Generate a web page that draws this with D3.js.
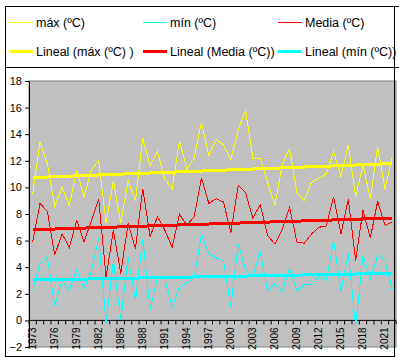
<!DOCTYPE html>
<html>
<head>
<meta charset="utf-8">
<script src="https://cdn.jsdelivr.net/npm/d3@7"></script>
<style>
  body { margin: 0; background: #fff; }
  svg { display: block; font-family: "Liberation Sans", Arial, sans-serif; }
</style>
</head>
<body>
<div id="chart"></div>
<script>
// Data
var years = d3.range(1973, 2023);

var maxTemp = [9.5, 13.4, 11.8, 8.6, 10.0, 8.65, 11.3, 9.3, 11.3, 12.0,
  7.3, 10.5, 7.3, 10.5, 9.0, 13.7, 11.6, 12.7, 10.6, 9.9,
  13.5, 11.4, 12.2, 14.9, 12.4, 13.6, 13.2, 12.1, 14.3, 15.8,
  12.2, 12.2, 10.4, 8.65, 11.7, 12.9, 9.6, 9.0, 10.4, 10.7,
  11.0, 12.7, 10.8, 13.2, 9.3, 11.7, 9.15, 13.05, 9.9, 12.3];

var minTemp = [2.3, 4.25, 4.75, 1.1, 3.0, 2.3, 3.8, 2.4, 3.7, 6.2,
  -0.2, 4.5, 0.0, 4.75, 1.5, 6.15, 0.85, 3.2, 3.1, 1.0,
  2.5, 2.85, 3.2, 6.5, 5.0, 4.7, 4.5, 1.0, 5.75, 3.8,
  3.3, 5.2, 2.2, 2.75, 2.2, 3.9, 2.2, 2.7, 2.7, 3.3,
  3.0, 6.0, 2.2, 5.05, -0.45, 4.85, 3.15, 4.9, 4.5, 2.3];

var meanTemp = [5.9, 8.8, 8.2, 4.9, 6.5, 5.5, 7.5, 5.9, 7.5, 9.1,
  3.25, 6.8, 3.5, 7.3, 5.4, 9.9, 6.3, 7.8, 6.8, 5.5,
  8.0, 7.15, 7.8, 10.7, 8.8, 9.15, 8.9, 6.6, 10.15, 9.6,
  7.7, 8.7, 6.4, 5.75, 6.85, 8.5, 5.9, 5.8, 6.5, 7.0,
  7.1, 9.3, 6.5, 9.1, 4.5, 8.3, 6.2, 8.95, 7.15, 7.4];

var yTicks = [-2, 0, 2, 4, 6, 8, 10, 12, 14, 16, 18];
var xTickYears = [1973, 1976, 1979, 1982, 1985, 1988, 1991, 1994, 1997,
  2000, 2003, 2006, 2009, 2012, 2015, 2018, 2021];

var legendLabels = ["máx (ºC)", "mín (ºC)", "Media (ºC)",
  "Lineal (máx (ºC) )", "Lineal (Media (ºC))", "Lineal (mín (ºC))"];

var svgWidth = 399;
var svgHeight = 362;

var plot = { left: 29, right: 396, top: 81, bottom: 347 };

var svg = d3.select("#chart")
  .append("svg")
  .attr("width", svgWidth)
  .attr("height", svgHeight);

// scales
var x = d3.scaleBand()
  .domain(years)
  .range([plot.left, plot.right]);

var y = d3.scaleLinear()
  .domain([-2, 18])
  .range([plot.bottom, plot.top]);

var cx = function(d) { return x(d) + x.bandwidth() / 2; };

// plot background
svg.append("rect")
  .attr("x", plot.left)
  .attr("y", plot.top)
  .attr("width", plot.right - plot.left)
  .attr("height", plot.bottom - plot.top)
  .attr("fill", "#c0c0c0")
  .attr("stroke", "#808080")
  .attr("stroke-width", 1);

// y axis
var yAxis = d3.axisLeft(y)
  .tickValues(yTicks)
  .tickSize(4)
  .tickPadding(3);

var yG = svg.append("g")
  .attr("transform", "translate(" + plot.left + ",0)")
  .call(yAxis);
yG.select(".domain").attr("stroke", "#000");
yG.selectAll("text").attr("font-size", 11).attr("fill", "#000")
  .attr("font-family", "Liberation Sans, Arial, sans-serif");

// x axis at zero, ticks at category boundaries
var xG = svg.append("g")
  .attr("transform", "translate(0," + y(0) + ")");

xG.append("line")
  .attr("x1", plot.left).attr("x2", plot.right)
  .attr("y1", 0).attr("y2", 0)
  .attr("stroke", "#000");

xG.selectAll(".xtick")
  .data(years.concat(["end"]))
  .enter()
  .append("line")
  .attr("class", "xtick")
  .attr("x1", d => d === "end" ? plot.right : x(d))
  .attr("x2", d => d === "end" ? plot.right : x(d))
  .attr("y1", 0).attr("y2", 4)
  .attr("stroke", "#000");

xG.selectAll(".xlab")
  .data(xTickYears)
  .enter()
  .append("text")
  .attr("class", "xlab")
  .attr("transform", d => "translate(" + cx(d) + ",7) rotate(-90)")
  .attr("text-anchor", "end")
  .attr("dy", "0.35em")
  .attr("font-size", 10)
  .attr("fill", "#000")
  .text(d => d);

// series lines
var series = [
  { values: maxTemp, color: "#ffff00" },
  { values: minTemp, color: "#00ffff" },
  { values: meanTemp, color: "#ff0000" }
];

var line = d3.line()
  .x((d, i) => cx(years[i]))
  .y(d => y(d));

series.forEach(function(s) {
  svg.append("path")
    .datum(s.values)
    .attr("d", line)
    .attr("fill", "none")
    .attr("stroke", s.color)
    .attr("stroke-width", 1)
    .attr("shape-rendering", "crispEdges");
});

// linear trend lines (least squares)
function trend(vals) {
  var n = vals.length;
  var mx = d3.mean(vals, (d, i) => i);
  var my = d3.mean(vals);
  var sxy = d3.sum(vals, (d, i) => (i - mx) * (d - my));
  var sxx = d3.sum(vals, (d, i) => (i - mx) * (i - mx));
  var b = sxy / sxx;
  var a = my - b * mx;
  return [a, a + b * (n - 1)];
}

series.forEach(function(s) {
  var t = trend(s.values);
  svg.append("line")
    .attr("x1", cx(years[0]))
    .attr("x2", cx(years[years.length - 1]))
    .attr("y1", y(t[0]))
    .attr("y2", y(t[1]))
    .attr("stroke", s.color)
    .attr("stroke-width", 3)
    .attr("shape-rendering", "crispEdges");
});

// frame
var frame = svg.append("g").attr("stroke", "#000").attr("stroke-width", 1);
frame.append("line").attr("x1", 5).attr("x2", 399).attr("y1", 6.5).attr("y2", 6.5);
frame.append("line").attr("x1", 5).attr("x2", 399).attr("y1", 67.5).attr("y2", 67.5);
frame.append("line").attr("x1", 5.5).attr("x2", 5.5).attr("y1", 6).attr("y2", 357);
frame.append("line").attr("x1", 394.5).attr("x2", 394.5).attr("y1", 6).attr("y2", 357);
frame.append("line").attr("x1", 5).attr("x2", 395).attr("y1", 356.5).attr("y2", 356.5);

// legend
var legendColors = ["#ffff00", "#00ffff", "#ff0000", "#ffff00", "#ff0000", "#00ffff"];
var legendX = [9, 143, 278];
var legendY = [22.5, 51.5];

var legend = svg.selectAll(".legend")
  .data(legendLabels)
  .enter()
  .append("g")
  .attr("class", "legend")
  .attr("transform", (d, i) => "translate(" + legendX[i % 3] + "," + legendY[Math.floor(i / 3)] + ")");

legend.append("line")
  .attr("x1", 0).attr("x2", 24)
  .attr("y1", 0).attr("y2", 0)
  .attr("stroke", (d, i) => legendColors[i])
  .attr("stroke-width", (d, i) => i < 3 ? 1 : 3);

legend.append("text")
  .attr("x", 27)
  .attr("dy", "0.35em")
  .attr("font-size", 12.5)
  .attr("fill", "#000")
  .text(d => d);
</script>
</body>
</html>
